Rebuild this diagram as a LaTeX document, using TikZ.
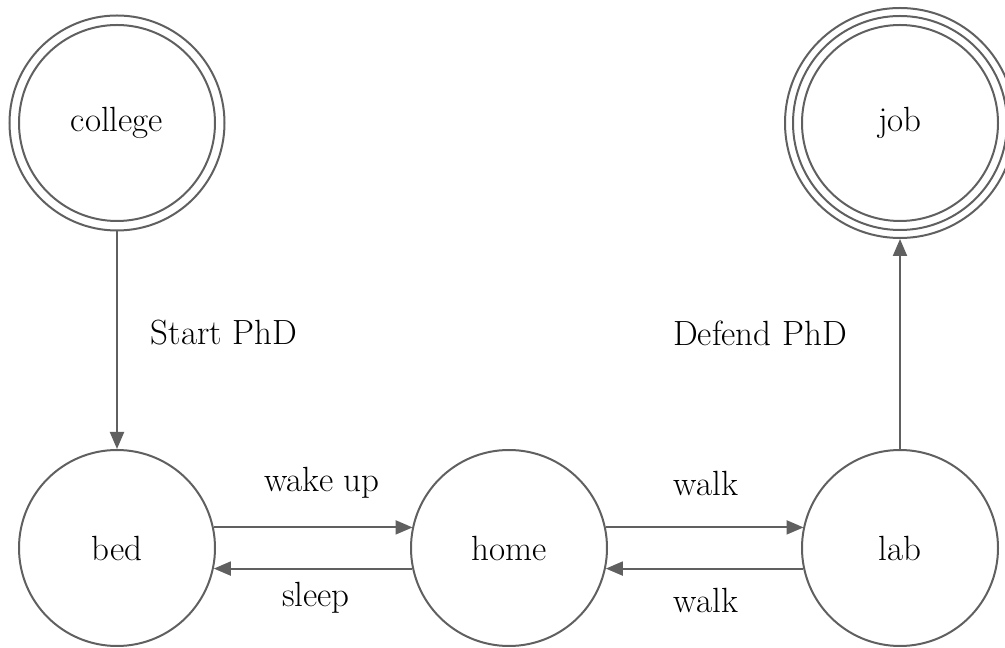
\documentclass[tikz,border=0pt]{standalone}
\usetikzlibrary{arrows.meta}
\definecolor{edgegray}{HTML}{606060}
\begin{document}
\begin{tikzpicture}[x=1pt,y=1pt,
  every node/.style={font=\fontsize{35}{42}\selectfont},
  state/.style={circle,draw=edgegray,line width=2pt,minimum size=196pt,inner sep=0pt},
  ring/.style={circle,draw=edgegray,line width=2pt,inner sep=0pt},
  trans/.style={draw=edgegray,line width=2pt,-{Triangle[length=17pt,width=14pt]}},
  lbl/.style={text=black,inner sep=0pt}]
\useasboundingbox (0,0) rectangle (1005,648);
% accepting / final states
\node[ring,minimum size=215pt] (college) at (117,525) {};
\node[state] (college-in) at (117,525) {college};
\node[ring,minimum size=230pt] (job) at (900,525) {};
\node[ring,minimum size=214pt] (job-mid) at (900,525) {};
\node[state] (job-in) at (900,525) {job};
% ordinary states
\node[state] (bed) at (117,100) {bed};
\node[state] (home) at (509,100) {home};
\node[state] (lab) at (900,100) {lab};
% transitions
\draw[trans] (college.south) -- (bed.north);
\draw[trans] (lab.north) -- (job.south);
\draw[trans] (bed.12.4) -- (home.167.6 |- bed.12.4);
\draw[trans] (home.192.8) -- (bed.-12.8 |- home.192.8);
\draw[trans] (home.12.4) -- (lab.167.6 |- home.12.4);
\draw[trans] (lab.192.8) -- (home.-12.8 |- lab.192.8);
% transition labels
\node[lbl] (l-start) at (224,315) {Start PhD};
\node[lbl] (l-defend) at (760,315) {Defend PhD};
\node[lbl] (l-wake) at (322,165) {wake up};
\node[lbl] (l-sleep) at (316,50) {sleep};
\node[lbl] (l-walk1) at (706,165) {walk};
\node[lbl] (l-walk2) at (706,48) {walk};
\end{tikzpicture}
\end{document}
